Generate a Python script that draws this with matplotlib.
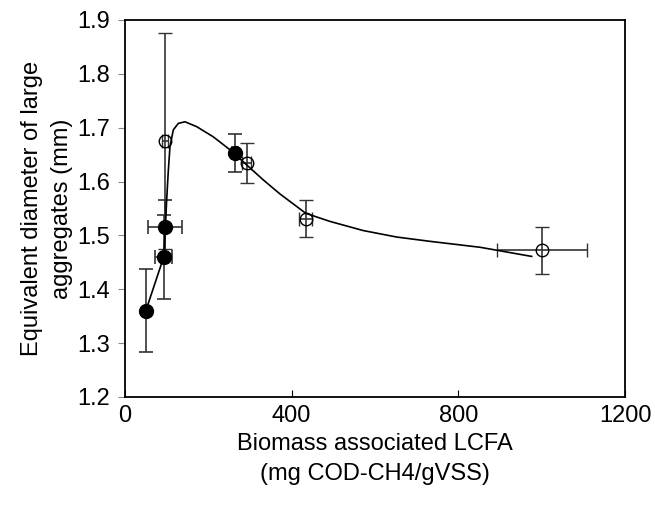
import matplotlib
matplotlib.use("Agg")
import matplotlib.pyplot as plt

# filled circles
filled_x = [50, 93, 96, 264]
filled_y = [1.36, 1.46, 1.515, 1.653]
filled_xerr = [0, 20, 41, 8]
filled_yerr = [0.077, 0.078, 0.05, 0.035]

# open circles
open_x = [96, 292, 434, 1000]
open_y = [1.675, 1.635, 1.531, 1.472]
open_xerr = [8, 10, 16, 108]
open_yerr = [0.2, 0.037, 0.034, 0.043]

# trend curve
curve_x = [50, 93, 97, 100, 104, 108, 116, 128, 144, 172, 212, 252, 292,
           332, 372, 434, 492, 572, 652, 732, 852, 976]
curve_y = [1.36, 1.46, 1.515, 1.565, 1.62, 1.665, 1.696, 1.708, 1.711, 1.702,
           1.683, 1.659, 1.631, 1.603, 1.577, 1.541, 1.526, 1.509, 1.497,
           1.489, 1.478, 1.461]

xticks = [0, 400, 800, 1200]
yticks = [1.2, 1.3, 1.4, 1.5, 1.6, 1.7, 1.8, 1.9]

plt.rcParams["font.family"] = ["Liberation Sans", "DejaVu Sans"]

fig = plt.figure(figsize=(6.55, 5.05), dpi=100)
ax = fig.add_axes([0.1908, 0.2139, 0.7634, 0.7465])

ax.errorbar(open_x, open_y, xerr=open_xerr, yerr=open_yerr, fmt="o",
            mfc="none", mec="black", mew=1, ms=9, ecolor="#333333",
            elinewidth=1.2, capsize=5, capthick=1.2, zorder=3)
ax.errorbar(filled_x, filled_y, xerr=filled_xerr, yerr=filled_yerr, fmt="o",
            mfc="black", mec="black", ms=10, ecolor="#333333",
            elinewidth=1.2, capsize=5, capthick=1.2, zorder=4)
ax.plot(curve_x, curve_y, color="black", lw=1.2, zorder=5)

ax.set_xlim(0, 1200)
ax.set_ylim(1.2, 1.9)
ax.set_xticks(xticks)
ax.set_yticks(yticks)
ax.set_yticklabels([f"{t:.1f}" for t in yticks])
ax.tick_params(axis="x", direction="in", length=5, labelsize=17, pad=6)
ax.tick_params(axis="y", direction="out", length=5, labelsize=17, pad=6,
               color="#888888")
for s in ax.spines.values():
    s.set_linewidth(1.3)

ax.set_xlabel("Biomass associated LCFA\n(mg COD-CH4/gVSS)", fontsize=17,
              linespacing=1.5, labelpad=4)
ax.set_ylabel("Equivalent diameter of large\naggregates (mm)", fontsize=17,
              linespacing=1.45, labelpad=3)

fig.savefig("out.png", dpi=100)
